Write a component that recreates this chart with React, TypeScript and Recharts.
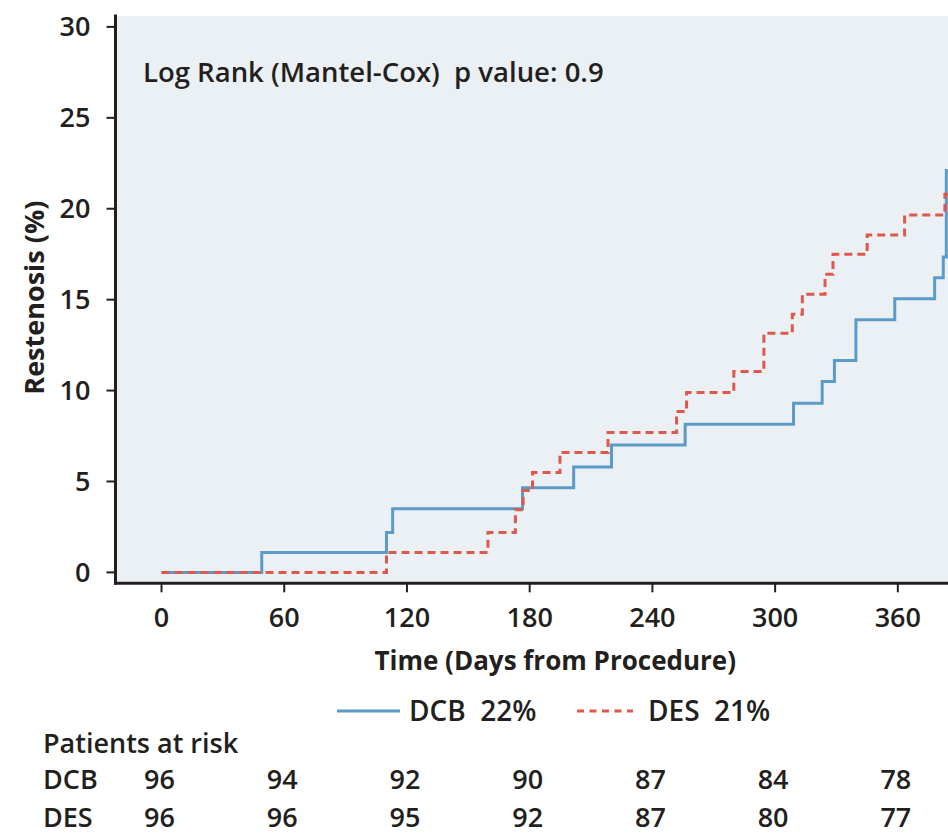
import React from 'react';
import { LineChart, Line, XAxis, YAxis, CartesianGrid } from 'recharts';

// Kaplan-Meier style cumulative restenosis
const dcbDays = [0, 49, 110, 113, 176.5, 201.5, 220, 256, 309, 323, 329, 339.5, 358.5, 378, 382.2, 383.7, 400];
const dcbRate = [0, 1.1, 2.2, 3.5, 4.65, 5.8, 7.0, 8.15, 9.3, 10.5, 11.65, 13.9, 15.05, 16.2, 17.35, 22.1, 22.1];

const desDays = [0, 110, 159.6, 173, 176.8, 181.4, 194.8, 218.3, 251.8, 256.7, 279.8, 294.5, 308.4, 313.3, 324.4, 328.3, 345, 363.3, 383, 400];
const desRate = [0, 1.1, 2.2, 3.45, 4.5, 5.5, 6.6, 7.7, 8.85, 9.9, 11.05, 13.15, 14.2, 15.3, 16.4, 17.5, 18.55, 19.65, 20.8, 20.8];

const xTicks = [0, 60, 120, 180, 240, 300, 360];
const yTicks = [0, 5, 10, 15, 20, 25, 30];

const dcbAtRisk = [96, 94, 92, 90, 87, 84, 78];
const desAtRisk = [96, 96, 95, 92, 87, 80, 77];

const dcbData = dcbDays.map((day, i) => ({ day, rate: dcbRate[i] }));
const desData = desDays.map((day, i) => ({ day, rate: desRate[i] }));

const INK = '#231f20';
const BLUE = '#5b9bc8';
const RED = '#e0574b';
const FONT = '"Open Sans", "Noto Sans", sans-serif';
const txt = { fontFamily: FONT, fontSize: 27, fontWeight: 600, fill: INK };

function DayTick(props: any) {
  const { x, y, payload } = props;
  const i = xTicks.indexOf(payload.value);
  return (
    <g>
      <text x={x} y={y + 27} textAnchor="middle" {...txt}>{payload.value}</text>
      <text x={x - 2} y={y + 189} textAnchor="middle" {...txt}>{dcbAtRisk[i]}</text>
      <text x={x - 2} y={y + 227} textAnchor="middle" {...txt}>{desAtRisk[i]}</text>
    </g>
  );
}

export default function App() {
  return (
    <div style={{ position: 'absolute', left: 0, top: 0, width: 948, height: 838, overflow: 'hidden', background: '#fff' }}>
      <LineChart width={1010} height={838} margin={{ top: 16, right: 15, left: 0, bottom: 0 }}>
        <CartesianGrid horizontal={false} vertical={false} fill="#ebf0f5" />
        <XAxis
          type="number"
          dataKey="day"
          domain={[-22.5, 407.5]}
          ticks={xTicks}
          allowDataOverflow
          height={254.7}
          tickSize={9}
          tickMargin={8}
          axisLine={{ stroke: INK, strokeWidth: 3, strokeLinecap: 'square' }}
          tickLine={{ stroke: INK, strokeWidth: 2 }}
          tick={<DayTick />}
          label={{
            content: ({ viewBox }: any) => (
              <text
                x={viewBox.x + viewBox.width / 2}
                y={viewBox.y + 87}
                textAnchor="middle"
                fontFamily={FONT}
                fontSize={26}
                fontWeight={700}
                fill={INK}
              >
                Time (Days from Procedure)
              </text>
            ),
          }}
        />
        <YAxis
          type="number"
          domain={[-0.6, 30.6]}
          ticks={yTicks}
          allowDataOverflow
          width={115.5}
          tickSize={9}
          tickMargin={16}
          axisLine={{ stroke: INK, strokeWidth: 3, strokeLinecap: 'square' }}
          tickLine={{ stroke: INK, strokeWidth: 2 }}
          tick={txt}
          label={{
            content: ({ viewBox }: any) => {
              const cx = viewBox.x + 34;
              const cy = viewBox.y + viewBox.height / 2 - 2;
              return (
                <text
                  x={cx}
                  y={cy}
                  transform={`rotate(-90 ${cx} ${cy})`}
                  textAnchor="middle"
                  dominantBaseline="central"
                  fontFamily={FONT}
                  fontSize={27}
                  fontWeight={700}
                  fill={INK}
                >
                  Restenosis (%)
                </text>
              );
            },
          }}
        />
        <Line
          data={dcbData}
          dataKey="rate"
          type="stepAfter"
          stroke={BLUE}
          strokeWidth={3}
          dot={false}
          isAnimationActive={false}
        />
        <Line
          data={desData}
          dataKey="rate"
          type="stepAfter"
          stroke={RED}
          strokeWidth={3}
          strokeDasharray="8 5"
          dot={false}
          isAnimationActive={false}
        />
        <text x={143} y={82} {...txt} fontSize={27.5} style={{ whiteSpace: 'pre' }}>
          {'Log Rank (Mantel-Cox)  p value: 0.9'}
        </text>

        {/* legend */}
        <line x1={337} x2={400} y1={711} y2={711} stroke={BLUE} strokeWidth={3} />
        <text x={409} y={721} {...txt} fontSize={28} style={{ whiteSpace: 'pre' }}>{'DCB  22%'}</text>
        <line x1={577} x2={633} y1={711} y2={711} stroke={RED} strokeWidth={3} strokeDasharray="7 5.5" />
        <text x={648} y={721} {...txt} fontSize={28} style={{ whiteSpace: 'pre' }}>{'DES  21%'}</text>

        {/* patients at risk */}
        <text x={43} y={753} {...txt}>Patients at risk</text>
        <text x={43} y={789} {...txt}>DCB</text>
        <text x={43} y={827} {...txt}>DES</text>
      </LineChart>
    </div>
  );
}
